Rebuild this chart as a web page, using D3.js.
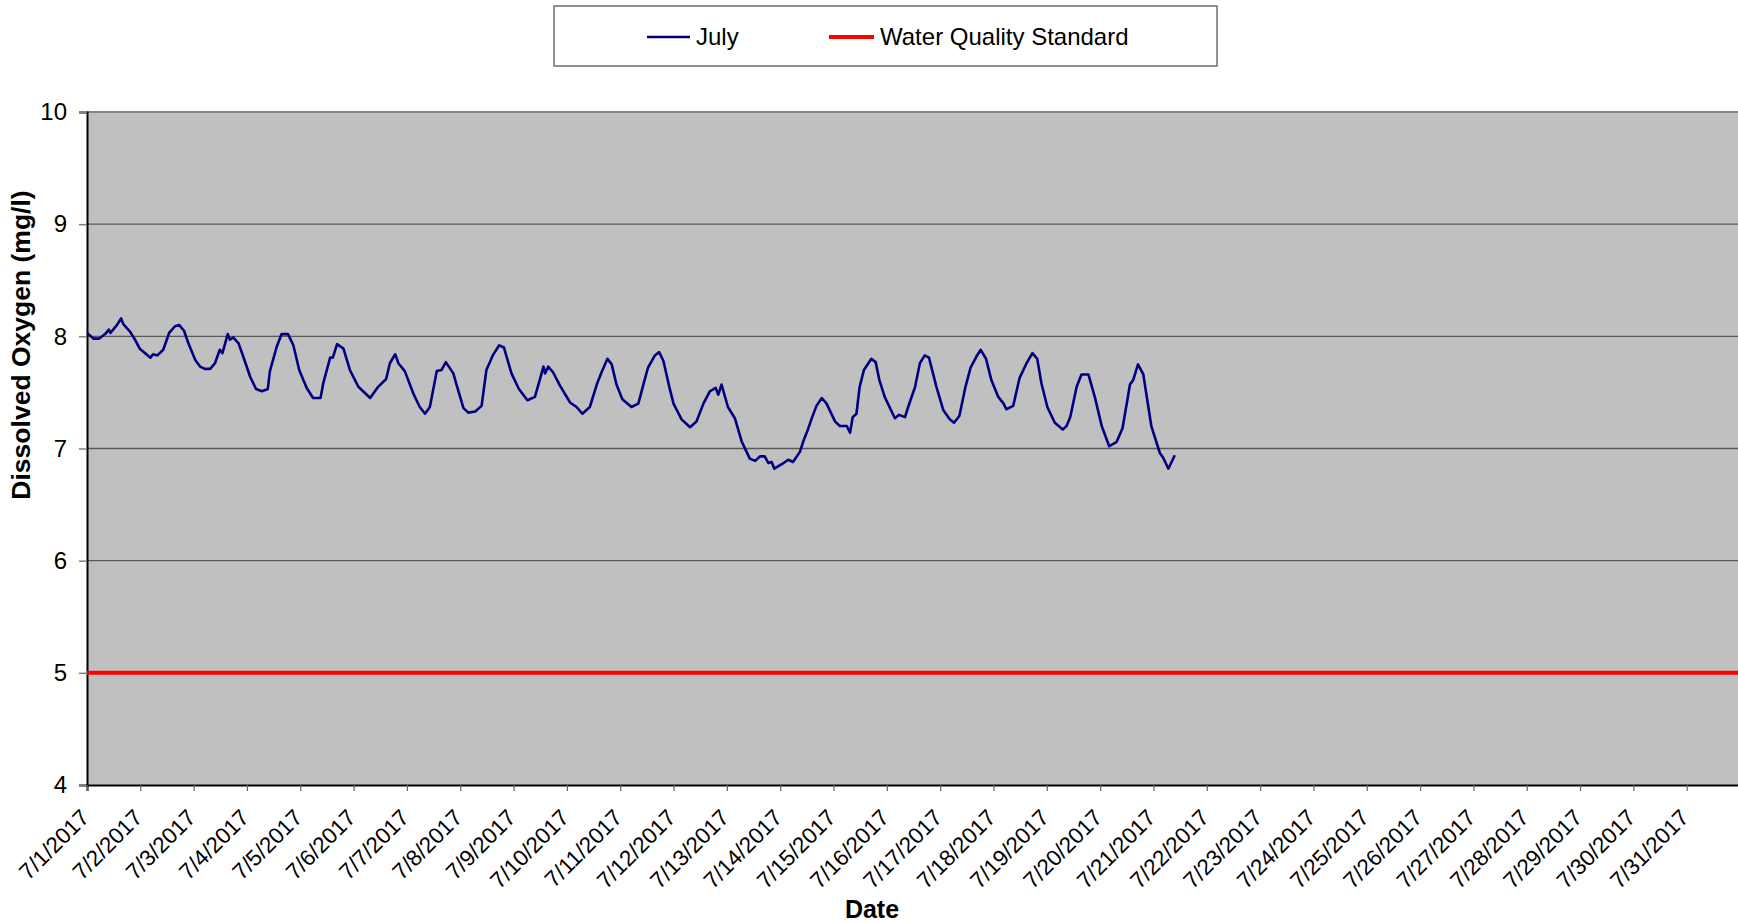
<!DOCTYPE html>
<html>
<head>
<meta charset="utf-8">
<script src="https://cdn.jsdelivr.net/npm/d3@7"></script>
<style>
  body { margin: 0; background: #fff; }
  text { font-family: "Liberation Sans", Arial, sans-serif; fill: #000; }
</style>
</head>
<body>
<script>
"use strict"

// July dissolved oxygen readings: days since 7/1/2017 00:00 and mg/l
const days = [
  0.00, 0.12, 0.23, 0.34, 0.41, 0.44, 0.56, 0.64, 0.68, 0.81, 0.90, 0.99, 1.09, 1.19, 1.24, 1.32,
  1.43, 1.54, 1.65, 1.73, 1.82, 1.90, 2.03, 2.12, 2.21, 2.31, 2.40, 2.49, 2.54, 2.64, 2.68, 2.74,
  2.84, 2.93, 3.06, 3.17, 3.28, 3.39, 3.43, 3.56, 3.65, 3.77, 3.87, 3.98, 4.12, 4.24, 4.38, 4.43,
  4.56, 4.61, 4.69, 4.81, 4.93, 5.09, 5.31, 5.46, 5.61, 5.68, 5.78, 5.84, 5.96, 6.12, 6.24, 6.34,
  6.43, 6.56, 6.65, 6.73, 6.87, 6.93, 7.06, 7.15, 7.28, 7.40, 7.49, 7.61, 7.73, 7.82, 7.96, 8.10,
  8.26, 8.40, 8.49, 8.56, 8.59, 8.65, 8.74, 8.87, 9.06, 9.18, 9.29, 9.43, 9.56, 9.65, 9.76, 9.84,
  9.93, 10.04, 10.21, 10.34, 10.44, 10.52, 10.65, 10.73, 10.81, 10.92, 11.00, 11.15, 11.31, 11.43,
  11.56, 11.68, 11.79, 11.84, 11.90, 12.02, 12.15, 12.28, 12.43, 12.53, 12.62, 12.71, 12.78, 12.84,
  12.89, 13.03, 13.15, 13.24, 13.37, 13.43, 13.52, 13.60, 13.68, 13.78, 13.87, 14.03, 14.12, 14.25,
  14.31, 14.36, 14.43, 14.49, 14.57, 14.71, 14.79, 14.86, 14.96, 15.15, 15.23, 15.34, 15.40, 15.53,
  15.62, 15.71, 15.79, 15.93, 16.06, 16.18, 16.26, 16.36, 16.47, 16.57, 16.68, 16.76, 16.86, 16.96,
  17.09, 17.19, 17.24, 17.37, 17.49, 17.62, 17.73, 17.82, 17.90, 18.01, 18.15, 18.30, 18.37, 18.44,
  18.56, 18.65, 18.78, 18.90, 19.03, 19.17, 19.31, 19.42, 19.56, 19.62, 19.71, 19.81, 19.96, 20.12,
  20.18, 20.28, 20.40,
]
const julyDO = [
  8.03, 7.98, 7.98, 8.02, 8.06, 8.03, 8.10, 8.16, 8.11, 8.04, 7.97, 7.89, 7.85, 7.81, 7.84, 7.83,
  7.88, 8.03, 8.09, 8.10, 8.05, 7.94, 7.79, 7.73, 7.71, 7.71, 7.76, 7.88, 7.85, 8.02, 7.97, 7.99,
  7.94, 7.82, 7.64, 7.53, 7.51, 7.53, 7.69, 7.91, 8.02, 8.02, 7.92, 7.70, 7.54, 7.45, 7.45, 7.58,
  7.81, 7.81, 7.93, 7.89, 7.70, 7.55, 7.45, 7.55, 7.62, 7.76, 7.84, 7.76, 7.69, 7.49, 7.37, 7.31,
  7.37, 7.69, 7.70, 7.77, 7.67, 7.57, 7.36, 7.32, 7.33, 7.38, 7.70, 7.83, 7.92, 7.90, 7.67, 7.53,
  7.43, 7.46, 7.61, 7.73, 7.67, 7.73, 7.68, 7.56, 7.41, 7.37, 7.31, 7.37, 7.57, 7.68, 7.80, 7.75,
  7.57, 7.44, 7.37, 7.40, 7.58, 7.72, 7.83, 7.86, 7.78, 7.55, 7.40, 7.26, 7.19, 7.24,
  7.40, 7.51, 7.54, 7.48, 7.57, 7.37, 7.27, 7.06, 6.91, 6.89, 6.93, 6.93, 6.87, 6.88,
  6.82, 6.86, 6.90, 6.88, 6.97, 7.06, 7.17, 7.28, 7.38, 7.45, 7.40, 7.24, 7.20, 7.20,
  7.14, 7.28, 7.31, 7.55, 7.70, 7.80, 7.77, 7.61, 7.46, 7.27, 7.30, 7.28, 7.37, 7.55,
  7.76, 7.83, 7.81, 7.55, 7.34, 7.26, 7.23, 7.29, 7.54, 7.72, 7.82, 7.88, 7.80, 7.61,
  7.46, 7.40, 7.35, 7.38, 7.63, 7.76, 7.85, 7.80, 7.58, 7.37, 7.23, 7.17, 7.20, 7.28,
  7.55, 7.66, 7.66, 7.46, 7.20, 7.02, 7.06, 7.18, 7.57, 7.61, 7.75, 7.66, 7.20, 6.96,
  6.92, 6.82, 6.94,
]

// standard and axis values
const standard   = 5
const yTicks     = [4, 5, 6, 7, 8, 9, 10]
const monthStart = new Date(2017, 6, 1)
const monthEnd   = new Date(2017, 7, 1)
const xTicks     = d3.timeDay.range(monthStart, monthEnd)
const legendKeys = ["July", "Water Quality Standard"]

// drawing area
const W = 1738, H = 923
const plot = { left : 87, right : 1740, top : 112, bottom : 785 }

const toDate = d => new Date(monthStart.getTime() + d * 864e5)
const series = days.map((d, i) => ({ date : toDate(d), value : julyDO[i] }))

const x = d3.scaleTime().domain([monthStart, monthEnd]).range([plot.left, plot.right])
const y = d3.scaleLinear().domain([4, 10]).range([plot.bottom, plot.top])

const svg = d3.select("body").append("svg")
  .attr("width", W)
  .attr("height", H)

// plot background
svg.append("rect")
  .attr("x", plot.left).attr("y", plot.top)
  .attr("width", plot.right - plot.left).attr("height", plot.bottom - plot.top)
  .attr("fill", "#c0c0c0")

// horizontal gridlines
svg.append("g").selectAll("line")
  .data(yTicks.filter(v => v > 4 && v < 10))
  .enter().append("line")
  .attr("x1", plot.left).attr("x2", plot.right)
  .attr("y1", d => y(d)).attr("y2", d => y(d))
  .attr("stroke", "#5a5a5a").attr("stroke-width", 1.4)

// top border
svg.append("line")
  .attr("x1", plot.left).attr("x2", plot.right)
  .attr("y1", plot.top).attr("y2", plot.top)
  .attr("stroke", "#858585").attr("stroke-width", 2)

// y axis
const yAxis = svg.append("g")
  .attr("transform", `translate(${plot.left},0)`)
  .call(d3.axisLeft(y).tickValues(yTicks).tickSize(8).tickPadding(12).tickFormat(d3.format("d")))
yAxis.select(".domain").attr("stroke", "#000").attr("stroke-width", 2)
yAxis.selectAll(".tick line").attr("stroke", "#808080").attr("stroke-width", 1.5)
yAxis.selectAll(".tick text")
  .style("font-size", "24px")
  .style("font-family", "'Liberation Sans', Arial, sans-serif")
  .attr("fill", "#000")

// x axis
const xAxis = svg.append("g")
  .attr("transform", `translate(0,${plot.bottom})`)
  .call(d3.axisBottom(x).tickValues(xTicks).tickSize(6).tickFormat(d3.timeFormat("%-m/%-d/%Y")))
xAxis.select(".domain").attr("stroke", "#000").attr("stroke-width", 2)
xAxis.selectAll(".tick line").attr("stroke", "#606060").attr("stroke-width", 1.2)
xAxis.selectAll(".tick text")
  .style("font-size", "22.5px")
  .style("font-family", "'Liberation Sans', Arial, sans-serif")
  .attr("fill", "#000")
  .attr("text-anchor", "end")
  .attr("x", 0).attr("y", 0).attr("dy", 0)
  .attr("transform", "translate(3,34) rotate(-45)")

// water quality standard line
svg.append("line")
  .attr("x1", plot.left).attr("x2", plot.right)
  .attr("y1", y(standard)).attr("y2", y(standard))
  .attr("stroke", "#ff0000").attr("stroke-width", 4)

// July series
svg.append("path")
  .datum(series)
  .attr("fill", "none")
  .attr("stroke", "#000080")
  .attr("stroke-width", 2.6)
  .attr("stroke-linejoin", "round")
  .attr("d", d3.line().x(d => x(d.date)).y(d => y(d.value)))

// axis titles
svg.append("text")
  .attr("transform", "translate(30,345) rotate(-90)")
  .attr("text-anchor", "middle")
  .style("font-size", "26.5px").style("font-weight", "bold")
  .text("Dissolved Oxygen (mg/l)")

svg.append("text")
  .attr("x", 872).attr("y", 918)
  .attr("text-anchor", "middle")
  .style("font-size", "25px").style("font-weight", "bold")
  .text("Date")

// legend
const legend = svg.append("g")
legend.append("rect")
  .attr("x", 554).attr("y", 6).attr("width", 663).attr("height", 60)
  .attr("fill", "#fff").attr("stroke", "#6e6e6e").attr("stroke-width", 1.5)

const legendItems = [
  { label : legendKeys[0], color : "#000080", width : 2.4, x1 : 647, x2 : 690, tx : 696 },
  { label : legendKeys[1], color : "#ff0000", width : 4,   x1 : 829, x2 : 874, tx : 880 },
]
legendItems.forEach(item => {
  legend.append("line")
    .attr("x1", item.x1).attr("x2", item.x2).attr("y1", 37).attr("y2", 37)
    .attr("stroke", item.color).attr("stroke-width", item.width)
  legend.append("text")
    .attr("x", item.tx).attr("y", 45)
    .style("font-size", "24px")
    .text(item.label)
})
</script>
</body>
</html>
